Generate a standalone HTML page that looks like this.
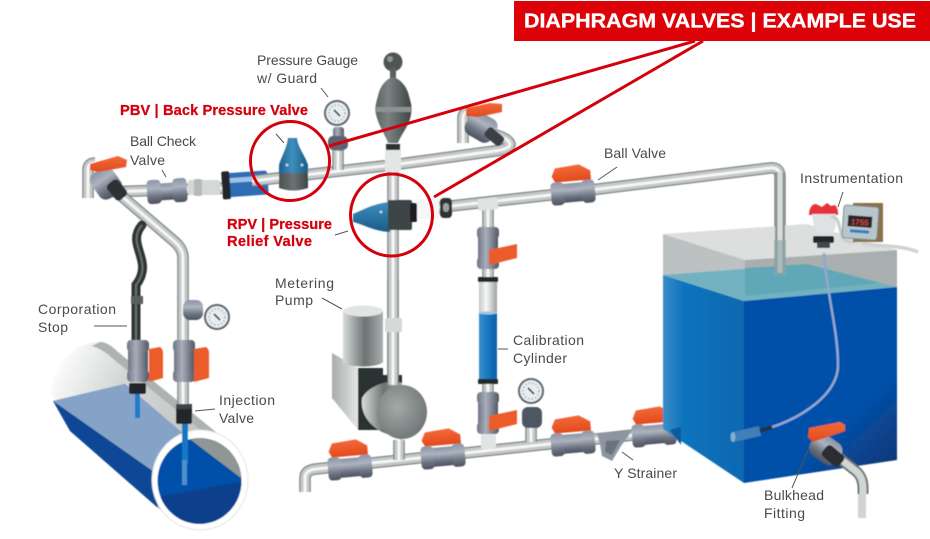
<!DOCTYPE html>
<html><head><meta charset="utf-8"><style>
html,body{margin:0;padding:0;background:#fff}
svg{display:block;width:930px;height:539px}
text{font-family:"Liberation Sans",sans-serif}
.l{font-size:14px;fill:#4a4a4a}
.r{font-size:14.6px;font-weight:bold;fill:#d4000c;stroke:#d4000c;stroke-width:.25}
.ld{stroke:#555;stroke-width:1;fill:none}
.p1{fill:none;stroke:#7b8281;stroke-width:11.5;stroke-linejoin:round}
.p2{fill:none;stroke:#c4c8c8;stroke-width:9;stroke-linejoin:round}
.p3{fill:none;stroke:#f5f6f6;stroke-width:3;stroke-linejoin:round}
</style></head><body>
<svg width="930" height="539" viewBox="0 0 930 539" xmlns="http://www.w3.org/2000/svg">
<defs>
<filter id="s" x="-5%" y="-5%" width="110%" height="110%"><feGaussianBlur stdDeviation="0.45"/></filter>
<linearGradient id="gv" x1="0" y1="0" x2="0" y2="1"><stop offset="0" stop-color="#8b93a3"/><stop offset=".35" stop-color="#adb3bf"/><stop offset=".7" stop-color="#6d7482"/><stop offset="1" stop-color="#4c525d"/></linearGradient>
<linearGradient id="gvv" x1="0" y1="0" x2="1" y2="0"><stop offset="0" stop-color="#6d7482"/><stop offset=".4" stop-color="#a8aebb"/><stop offset="1" stop-color="#525863"/></linearGradient>
<linearGradient id="go" x1="0" y1="0" x2="0" y2="1"><stop offset="0" stop-color="#f26a3a"/><stop offset="1" stop-color="#e24a1c"/></linearGradient>
<linearGradient id="gblue" x1="0" y1="0" x2="1" y2="0"><stop offset="0" stop-color="#1f5f8e"/><stop offset=".45" stop-color="#3e8fbd"/><stop offset="1" stop-color="#1a5a88"/></linearGradient>
<linearGradient id="gblue2" x1="0" y1="0" x2="0" y2="1"><stop offset="0" stop-color="#3e8fbd"/><stop offset="1" stop-color="#1a5a88"/></linearGradient>
<linearGradient id="gdk" x1="0" y1="0" x2="1" y2="0"><stop offset="0" stop-color="#4a5252"/><stop offset=".5" stop-color="#6b7272"/><stop offset="1" stop-color="#3f4646"/></linearGradient>
<linearGradient id="gac" x1="0" y1="0" x2="1" y2="0"><stop offset="0" stop-color="#5c6464"/><stop offset=".35" stop-color="#7a8282"/><stop offset="1" stop-color="#3d4444"/></linearGradient>
<linearGradient id="gcyl" x1="0" y1="0" x2="1" y2="0"><stop offset="0" stop-color="#d9dcdc"/><stop offset=".55" stop-color="#6c7372"/><stop offset="1" stop-color="#a9aeae"/></linearGradient>
<linearGradient id="gbox" x1="0" y1="0" x2="1" y2="0"><stop offset="0" stop-color="#a7acab"/><stop offset="1" stop-color="#e4e6e6"/></linearGradient>
<radialGradient id="gdisc" cx=".4" cy=".4" r=".7"><stop offset="0" stop-color="#a4a9a8"/><stop offset="1" stop-color="#6b7271"/></radialGradient>
<linearGradient id="tl" x1="0" y1="0" x2="1" y2="0"><stop offset="0" stop-color="#3b8cc8"/><stop offset=".25" stop-color="#0f74bd"/><stop offset="1" stop-color="#0768b0"/></linearGradient>
<linearGradient id="tr" x1=".55" y1=".35" x2="1" y2=".95"><stop offset="0" stop-color="#0450a8"/><stop offset=".45" stop-color="#0450a8"/><stop offset="1" stop-color="#0e3470"/></linearGradient>
<linearGradient id="tube" gradientUnits="userSpaceOnUse" x1="60" y1="350" x2="230" y2="440"><stop offset="0" stop-color="#fff"/><stop offset=".35" stop-color="#d4d7d6"/><stop offset="1" stop-color="#bcc0bf"/></linearGradient>
<linearGradient id="cylw" x1="0" y1="0" x2="1" y2="0"><stop offset="0" stop-color="#3b8fc9"/><stop offset=".5" stop-color="#1677bf"/><stop offset="1" stop-color="#0a5fa5"/></linearGradient>
<linearGradient id="cylg" x1="0" y1="0" x2="1" y2="0"><stop offset="0" stop-color="#c3c7c7"/><stop offset=".4" stop-color="#f8f8f8"/><stop offset="1" stop-color="#9ba1a0"/></linearGradient>

<path id="a" d="M88 198V170Q88 163 95 163M105 192L230 188"/>
<path id="b" d="M118 193L175 242Q183 249 183 258V345"/>
<path id="c" d="M183 372V420"/>
<path id="d" d="M252 181L392 165L495 151Q510 149 510 144 508 138 493 134"/>
<path id="e" d="M393 160V385"/>
<path id="f" d="M338 150V170"/>
<path id="g" d="M415 210L550 195L770 168Q780 167 780 177V275"/>
<path id="h" d="M488 204V235"/>
<path id="i" d="M488 262V282"/>
<path id="j" d="M488 384V400"/>
<path id="k" d="M488 425V446"/>
<path id="m" d="M305 492V478Q305 470 316 469L680 430"/>
<path id="n" d="M399 440V460"/>
<path id="o" d="M531 420V442"/>
<path id="q" d="M463 143V118Q463 112 470 111"/>

<g id="hv">
<rect x="-22" y="-9" width="44" height="19" rx="3" fill="url(#gv)"/>
<rect x="-22" y="-11" width="13" height="23" rx="4" fill="url(#gv)"/>
<rect x="9" y="-11" width="13" height="23" rx="4" fill="url(#gv)"/>
<path d="M-16 -25L8 -27L19 -20L19 -11L-17 -11L-20 -17Z" fill="url(#go)"/>
</g>
<g id="vv">
<rect x="-10" y="-20" width="20" height="40" rx="4" fill="url(#gvv)"/>
<rect x="-11" y="-21" width="22" height="12" rx="4" fill="url(#gvv)"/>
<rect x="-11" y="9" width="22" height="12" rx="4" fill="url(#gvv)"/>
</g>
<g id="gauge">
<circle r="13" fill="#59606a"/><circle r="11" fill="#e8eef0"/>
<circle r="8" fill="none" stroke="#9fb0b8" stroke-width="1.5" stroke-dasharray="1.5 2"/>
<line x1="-3" y1="-3" x2="3" y2="3" stroke="#222" stroke-width="1.6"/>
</g>
</defs>

<rect width="930" height="539" fill="#fff"/>
<g filter="url(#s)">

<!-- large horizontal pipe -->
<path d="M100 342C75 342 50 365 52 396L160 510L228 442L118 352Q108 342 100 342Z" fill="url(#tube)"/>
<path d="M100 342Q108 342 118 352L228 442L222 447L112 358Q104 350 92 346Z" fill="#aeb3b2"/>
<path d="M53 401L125 384L187 437C170 442 160 458 156 474L158 508L70 431Z" fill="#0a4696"/>
<path d="M53 401L125 384L187 437C172 446 161 458 157 474Z" fill="#85a3c7"/>
<ellipse cx="200" cy="480" rx="48" ry="50" fill="#fff" stroke="#e3e5e5" stroke-width="1"/>
<clipPath id="cp"><ellipse cx="199.5" cy="481" rx="42" ry="43"/></clipPath>
<g clip-path="url(#cp)">
<rect x="150" y="430" width="100" height="100" fill="#0450a8"/>
<path d="M157 497L245 481V530H157Z" fill="#0a3f8c"/>
<path d="M187 437L245 481V430H187Z" fill="#8f9695"/>
</g>
<rect x="135" y="393" width="5" height="25" fill="#1c7cc9"/>
<rect x="182" y="423" width="6" height="40" fill="#1877c4"/>
<rect x="182" y="460" width="5" height="25" fill="#4c8fcc"/>

<!-- upper left pipes -->
<use href="#a" class="p1"/><use href="#a" class="p2"/><use href="#a" class="p3"/>
<use href="#b" class="p1"/><use href="#b" class="p2"/><use href="#b" class="p3"/>
<use href="#c" class="p1"/><use href="#c" class="p2"/><use href="#c" class="p3"/>
<!-- left gauge -->
<use href="#gauge" x="217" y="317"/>
<rect x="183" y="300" width="20" height="20" rx="7" fill="url(#gv)"/>
<!-- Injection valve -->
<use href="#vv" x="184" y="361"/>
<path d="M194 349L206 347Q209 349 209 353V378L194 382Z" fill="#ec5b2b"/>
<rect x="176" y="404" width="16" height="20" rx="2" fill="#23282a"/>
<rect x="176" y="404" width="16" height="5" fill="#3d4547"/>
<!-- Corp stop -->
<path d="M142 225C125 245 155 260 136 285V340" fill="none" stroke="#2e3435" stroke-width="9" stroke-linecap="round"/>
<path d="M142 225C125 245 155 260 136 285V340" fill="none" stroke="#697070" stroke-width="2"/>
<rect x="131" y="296" width="12" height="8" fill="#59605f"/>
<use href="#vv" x="138" y="361"/>
<path d="M149 349L160 347Q163 349 163 353V378L149 382Z" fill="#ec5b2b"/>
<rect x="129" y="383" width="17" height="11" rx="2" fill="#23282a"/>

<!-- Left ball valve -->
<rect x="93" y="168" width="26" height="30" rx="8" transform="rotate(-35 106 183)" fill="url(#gv)"/>
<rect x="110" y="180" width="14" height="20" rx="4" fill="#2d3235" transform="rotate(-40 117 190)"/>
<path d="M90 164L118 156L127 160L126 167L98 172L90 170Z" fill="url(#go)"/>

<!-- Ball check valve -->
<g transform="translate(167,191) rotate(-4)">
<rect x="-20" y="-8" width="40" height="17" rx="3" fill="url(#gv)"/>
<rect x="-20" y="-12" width="14" height="24" rx="4" fill="url(#gv)"/>
<rect x="6" y="-12" width="14" height="24" rx="4" fill="url(#gv)"/>
</g>
<rect x="188" y="180" width="32" height="15" rx="2" fill="#d6d8d8"/>
<rect x="194" y="179" width="8" height="17" rx="2" fill="#b6bbba"/>
<!-- Blue pipe -->
<g transform="rotate(-4 245 184)">
<rect x="226" y="172" width="42" height="24" rx="3" fill="#2e6db4"/>
<rect x="230" y="177" width="36" height="5" fill="#9fc2e6"/>
<rect x="222" y="170" width="8" height="28" rx="2" fill="#23282a"/>
</g>

<!-- Upper main pipe + T -->
<use href="#d" class="p1"/><use href="#d" class="p2"/><use href="#d" class="p3"/>
<use href="#e" class="p1"/><use href="#e" class="p2"/><use href="#e" class="p3"/>
<use href="#f" class="p1"/><use href="#f" class="p2"/><use href="#f" class="p3"/>
<use href="#q" class="p1"/><use href="#q" class="p2"/><use href="#q" class="p3"/>
<rect x="385" y="148" width="16" height="24" rx="2" fill="#e4e6e6"/>

<!-- Upper right valve -->
<rect x="466" y="114" width="30" height="26" rx="8" transform="rotate(30 481 127)" fill="url(#gv)"/>
<path d="M466 108L490 103L502 104L502 112L478 117L466 116Z" fill="url(#go)"/>
<rect x="489" y="127" width="11" height="20" rx="3" fill="#3a4044" transform="rotate(-50 494 137)"/>

<!-- Accumulator -->
<circle cx="393" cy="62" r="9.5" fill="#4d5454"/><circle cx="390" cy="59" r="3" fill="#8e9595"/>
<rect x="390" y="68" width="6" height="12" fill="#5a6161"/>
<path d="M393 77C386 79 380 86 378 96C375 106 375 110 376 114C378 125 386 136 388 143H398C400 136 410 125 411 114C412 110 412 106 409 96C407 86 400 79 393 77Z" fill="url(#gac)"/>
<path d="M376 107L411 107L411 112L376 112Z" fill="#8b9292"/>
<rect x="386" y="144" width="14" height="6" fill="#2b3030"/>

<!-- Pressure gauge -->
<rect x="333" y="127" width="11" height="24" rx="3" fill="url(#gvv)"/>
<rect x="328" y="136" width="20" height="14" rx="5" fill="#5c6370"/>
<use href="#gauge" x="337" y="113"/>

<!-- Right main pipe -->
<use href="#g" class="p1"/><use href="#g" class="p2"/><use href="#g" class="p3"/>
<use href="#h" class="p1"/><use href="#h" class="p2"/><use href="#h" class="p3"/>
<rect x="440" y="198" width="12" height="20" rx="4" fill="#2e3334"/><rect x="443" y="203" width="6" height="9" rx="3" fill="#9ba1a0"/>
<rect x="415" y="199" width="24" height="20" fill="#f6f6f6"/>
<rect x="478" y="198" width="20" height="12" rx="2" fill="#e0e2e2" transform="rotate(-6 488 204)"/>
<!-- Ball valve -->
<use href="#hv" x="573" y="192" transform="rotate(-5 573 192)"/>

<!-- PBV -->
<path d="M288 138H297C298 148 305 155 308 165V176H279V165C282 155 287 148 288 138Z" fill="url(#gblue)"/>
<path d="M279 173H308V188Q293 193 279 188Z" fill="url(#gdk)"/>
<circle cx="287" cy="165" r="1.4" fill="#c8dbe6"/><circle cx="302" cy="165" r="1.4" fill="#c8dbe6"/>

<!-- RPV -->
<path d="M353 214V222C363 224 372 231 390 232V202C372 204 363 210 353 214Z" fill="url(#gblue2)"/>
<rect x="388" y="200" width="24" height="30" rx="2" fill="#3e4546"/>
<rect x="410" y="203" width="7" height="19" rx="2" fill="#1b1f20"/>
<circle cx="381" cy="212" r="1.4" fill="#c8dbe6"/>

<!-- Pump -->
<path d="M332 353L358 368V430L332 398Z" fill="url(#gbox)"/>
<path d="M358 368H383V375H402V430H358Z" fill="#2a3030"/>
<path d="M343 311V362C348 368 378 368 383 362V311Z" fill="url(#gcyl)"/>
<ellipse cx="363" cy="311" rx="20" ry="5.5" fill="#e2e4e4"/>
<path d="M362 398C368 386 390 378 402 383V440L382 432C368 425 360 412 362 398Z" fill="url(#gcyl)"/>
<ellipse cx="402" cy="412" rx="25" ry="27" fill="url(#gdisc)"/>
<path d="M393 280V385" class="p1"/><path d="M393 280V385" class="p2"/><path d="M393 280V385" class="p3"/>
<rect x="385" y="318" width="17" height="14" rx="2" fill="#d6d9d9"/>

<!-- Cylinder -->
<use href="#i" class="p1"/><use href="#i" class="p2"/><use href="#i" class="p3"/>
<use href="#j" class="p1"/><use href="#j" class="p2"/><use href="#j" class="p3"/>
<use href="#k" class="p1"/><use href="#k" class="p2"/><use href="#k" class="p3"/>
<rect x="479" y="279" width="18" height="103" fill="url(#cylg)"/>
<rect x="479" y="313" width="18" height="68" fill="url(#cylw)"/>
<ellipse cx="488" cy="313" rx="9" ry="1.6" fill="#9fc4de"/>
<rect x="478" y="277" width="20" height="5" rx="1" fill="#24292a"/>
<rect x="478" y="379" width="20" height="5" rx="1" fill="#24292a"/>
<use href="#vv" x="488" y="248"/>
<path d="M489 250L517 244V258L489 265Z" fill="#ec5b2b"/>
<use href="#vv" x="488" y="413"/>

<!-- Bottom pipe -->
<use href="#m" class="p1"/><use href="#m" class="p2"/><use href="#m" class="p3"/>
<use href="#n" class="p1"/><use href="#n" class="p2"/><use href="#n" class="p3"/>
<use href="#o" class="p1"/><use href="#o" class="p2"/><use href="#o" class="p3"/>
<rect x="481" y="434" width="15" height="15" fill="#e2e4e4"/>
<path d="M489 416L517 410V424L489 431Z" fill="#ec5b2b"/>

<!-- Small gauge -->
<rect x="522" y="407" width="20" height="21" rx="6" fill="#4f5664"/>
<use href="#gauge" x="531" y="391"/>

<!-- Bottom valves -->
<use href="#hv" x="350" y="467" transform="rotate(-5 350 467)"/>
<use href="#hv" x="443" y="456" transform="rotate(-5 443 456)"/>
<use href="#hv" x="573" y="443" transform="rotate(-5 573 443)"/>
<use href="#hv" x="654" y="434" transform="rotate(-5 654 434)"/>

<!-- Y strainer -->
<path d="M597 433L632 431L621 446L612 461L602 456L600 444Z" fill="#8d95a0"/>
<path d="M606 441L620 440L612 455L605 452Z" fill="#6b7280"/>

<!-- Tank -->
<path d="M663 234L807 224L897 250L745 260Z" fill="#dcdfde"/>
<path d="M663 234L745 260V301L663 275Z" fill="#bcc2c1"/>
<path d="M745 260L897 250V287L744 301Z" fill="#a9afae"/>
<path d="M663 275L807 264L897 287L744 301Z" fill="#72b2c0"/>
<path d="M745 268L807 264L880 283L745 296Z" fill="#5aa2b3" opacity=".7"/>
<path d="M663 275L744 301V483L663 429Z" fill="url(#tl)"/>
<path d="M744 301L897 287V460L744 483Z" fill="url(#tr)"/>
<path d="M670 430L681 427L681 445Z" fill="#085a9c"/>
<path d="M780 172V273" stroke="#8e9695" stroke-width="10" fill="none"/>
<path d="M780 172V273" stroke="#d9dcdc" stroke-width="5" fill="none"/>
<rect x="774" y="240" width="12" height="36" fill="#8aa5a8" opacity=".6"/>
<!-- cable -->
<path d="M824 253C826 290 838 330 838 365C838 395 800 418 772 427" fill="none" stroke="#8fa8d0" stroke-width="2.5"/>
<path d="M733 437L760 431" stroke="#3f7fb7" stroke-width="10"/>
<ellipse cx="733" cy="437" rx="2.5" ry="5" fill="#7db0d3"/>
<path d="M772 427L760 431" stroke="#24343f" stroke-width="4"/>

<!-- Sensor -->
<path d="M809 215C809 208 812 204 816 204L822 207L827 203L831 206L835 205C838 208 838 212 838 215Z" fill="#e8303a"/>
<path d="M812 214H836V226Q832 236 825 236 816 236 814 226Z" fill="#dfe2e2"/>
<rect x="813" y="236" width="21" height="7" rx="2" fill="#24282a"/>
<rect x="817" y="242" width="13" height="6" fill="#40484a"/>
<path d="M831 217C842 215 838 238 846 241C856 244 858 240 858 236" fill="none" stroke="#c8cccb" stroke-width="3"/>
<path d="M862 243C872 247 900 244 918 252" fill="none" stroke="#cfd3d2" stroke-width="3.5"/>
<rect x="853" y="203" width="30" height="39" fill="#8a7148"/>
<rect x="843" y="206" width="35" height="33" rx="3" transform="rotate(4 860 222)" fill="#b8c6cc" stroke="#7f8b8e"/>
<rect x="848" y="216" width="24" height="11" fill="#232527" transform="rotate(4 860 221)"/>
<text x="851" y="225" font-size="8" fill="#d84040" font-weight="bold" transform="rotate(4 860 221)">1755</text>
<rect x="850" y="230" width="19" height="3" fill="#2d7fc5" transform="rotate(4 860 231)"/>

<!-- Bulkhead fitting -->
<path d="M838 457L857 472Q863 478 863 488V494" fill="none" stroke="#6f7776" stroke-width="11"/>
<path d="M838 457L857 472Q863 478 863 488V494" fill="none" stroke="#d2d5d5" stroke-width="7"/>
<rect x="858" y="494" width="8" height="24" fill="#cfd3d2"/>
<rect x="810" y="437" width="32" height="25" rx="9" transform="rotate(35 826 449)" fill="url(#gv)"/>
<rect x="826" y="445" width="14" height="22" rx="4" transform="rotate(-50 833 456)" fill="#2a2e30"/>
<path d="M809 428L840 422L845 425L845 431L813 442L808 437Z" fill="url(#go)"/>
</g>

<!-- leader lines -->
<path class="ld" d="M321 88L328 97M276 134L284 143M162 170L166 177M335 235L348 231M322 298L342 309M94 326H127M195 411L215 409M498 349H508M617 167L598 180M622 452L633 460M843 192L838 207M792 488L808 450"/>

<!-- red callouts -->
<circle cx="290" cy="161" r="39.5" fill="none" stroke="#d4000c" stroke-width="3"/>
<circle cx="391.5" cy="215" r="41" fill="none" stroke="#d4000c" stroke-width="3"/>
<path d="M329 146L695 41M434 197L703 41" fill="none" stroke="#d4000c" stroke-width="3"/>

<!-- title -->
<rect x="514" y="1" width="416" height="40" fill="#dc0208"/>
<text x="524" y="27.5" fill="#fff" stroke="#fff" stroke-width=".35" font-weight="bold" textLength="392" lengthAdjust="spacingAndGlyphs" style="font-size:20px">DIAPHRAGM VALVES | EXAMPLE USE</text>

<!-- labels -->
<text class="l" x="257" y="65" textLength="101">Pressure Gauge</text>
<text class="l" x="257" y="83" textLength="60">w/ Guard</text>
<text class="r" x="120" y="115" textLength="188">PBV | Back Pressure Valve</text>
<text class="l" x="130" y="146" textLength="66">Ball Check</text>
<text class="l" x="130" y="165" textLength="35">Valve</text>
<text class="r" x="227" y="229" textLength="105">RPV | Pressure</text>
<text class="r" x="227" y="246" textLength="85">Relief Valve</text>
<text class="l" x="275" y="288" textLength="59">Metering</text>
<text class="l" x="275" y="305" textLength="38">Pump</text>
<text class="l" x="38" y="314" textLength="78">Corporation</text>
<text class="l" x="38" y="332" textLength="30">Stop</text>
<text class="l" x="219" y="405" textLength="56">Injection</text>
<text class="l" x="219" y="423" textLength="35">Valve</text>
<text class="l" x="604" y="158" textLength="62">Ball Valve</text>
<text class="l" x="800" y="183" textLength="103">Instrumentation</text>
<text class="l" x="513" y="345" textLength="71">Calibration</text>
<text class="l" x="513" y="363" textLength="54">Cylinder</text>
<text class="l" x="614" y="478" textLength="63">Y Strainer</text>
<text class="l" x="764" y="500" textLength="60">Bulkhead</text>
<text class="l" x="764" y="518" textLength="41">Fitting</text>
</svg>
</body></html>
